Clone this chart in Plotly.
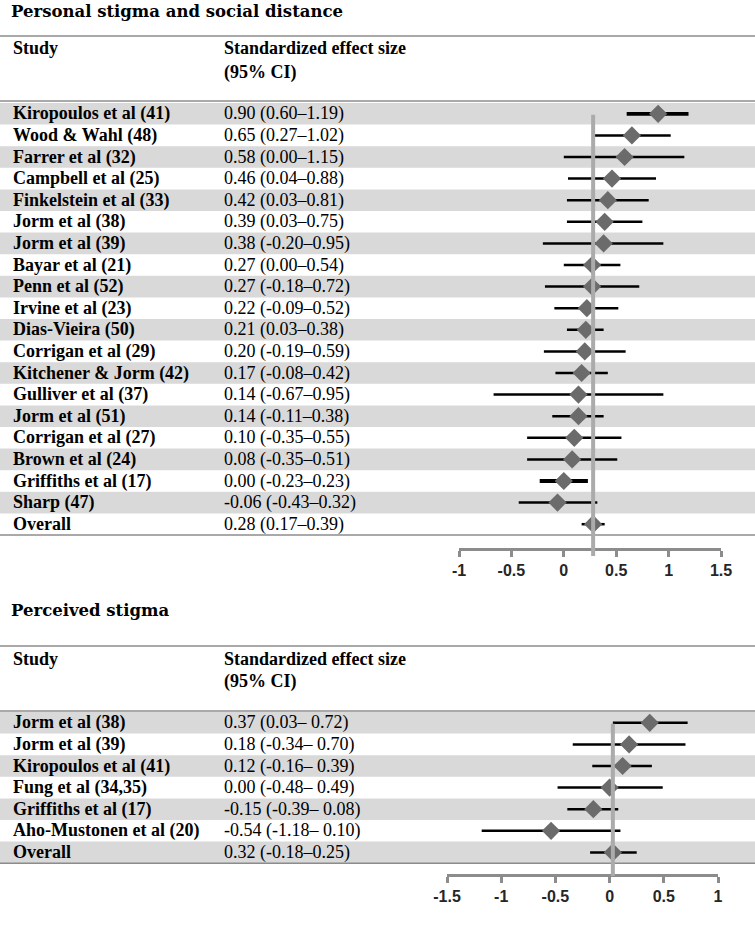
import plotly.graph_objects as go

# ---------------- data ----------------
top_studies = ["Kiropoulos et al (41)", "Wood & Wahl (48)", "Farrer et al (32)", "Campbell et al (25)",
               "Finkelstein et al (33)", "Jorm et al (38)", "Jorm et al (39)", "Bayar et al (21)",
               "Penn et al (52)", "Irvine et al (23)", "Dias-Vieira (50)", "Corrigan et al (29)",
               "Kitchener & Jorm (42)", "Gulliver et al (37)", "Jorm et al (51)", "Corrigan et al (27)",
               "Brown et al (24)", "Griffiths et al (17)", "Sharp (47)", "Overall"]
top_es = [0.90, 0.65, 0.58, 0.46, 0.42, 0.39, 0.38, 0.27, 0.27, 0.22, 0.21, 0.20, 0.17, 0.14, 0.14, 0.10, 0.08, 0.00, -0.06, 0.28]
top_lo = [0.60, 0.27, 0.00, 0.04, 0.03, 0.03, -0.20, 0.00, -0.18, -0.09, 0.03, -0.19, -0.08, -0.67, -0.11, -0.35, -0.35, -0.23, -0.43, 0.17]
top_hi = [1.19, 1.02, 1.15, 0.88, 0.81, 0.75, 0.95, 0.54, 0.72, 0.52, 0.38, 0.59, 0.42, 0.95, 0.38, 0.55, 0.51, 0.23, 0.32, 0.39]
top_labels = ["0.90 (0.60–1.19)", "0.65 (0.27–1.02)", "0.58 (0.00–1.15)", "0.46 (0.04–0.88)",
              "0.42 (0.03–0.81)", "0.39 (0.03–0.75)", "0.38 (-0.20–0.95)", "0.27 (0.00–0.54)",
              "0.27 (-0.18–0.72)", "0.22 (-0.09–0.52)", "0.21 (0.03–0.38)", "0.20 (-0.19–0.59)",
              "0.17 (-0.08–0.42)", "0.14 (-0.67–0.95)", "0.14 (-0.11–0.38)", "0.10 (-0.35–0.55)",
              "0.08 (-0.35–0.51)", "0.00 (-0.23–0.23)", "-0.06 (-0.43–0.32)", "0.28 (0.17–0.39)"]
top_ticks = [-1, -0.5, 0, 0.5, 1, 1.5]
top_ticktext = ["-1", "-0.5", "0", "0.5", "1", "1.5"]

bot_studies = ["Jorm et al (38)", "Jorm et al (39)", "Kiropoulos et al (41)", "Fung et al (34,35)",
               "Griffiths et al (17)", "Aho-Mustonen et al (20)", "Overall"]
bot_es = [0.37, 0.18, 0.12, 0.00, -0.15, -0.54, 0.03]
bot_lo = [0.03, -0.34, -0.16, -0.48, -0.39, -1.18, -0.18]
bot_hi = [0.72, 0.70, 0.39, 0.49, 0.08, 0.10, 0.25]
bot_labels = ["0.37 (0.03– 0.72)", "0.18 (-0.34– 0.70)", "0.12 (-0.16– 0.39)", "0.00 (-0.48– 0.49)",
              "-0.15 (-0.39– 0.08)", "-0.54 (-1.18– 0.10)", "0.32 (-0.18–0.25)"]
bot_ticks = [-1.5, -1, -0.5, 0, 0.5, 1]
bot_ticktext = ["-1.5", "-1", "-0.5", "0", "0.5", "1"]

# ---------------- layout helpers ----------------
W, H = 755, 926
ROW = 21.6


def py(p):
    return 1 - p / H


def pxx(p):
    return p / W


BAND = "#d9d9d9"
RULE = "#8c8c8c"
REF = "#ababab"
DIAM = "#6b6b6b"
SERIF = "Liberation Serif"
TXT = 18

fig = go.Figure()
shapes = []
annotations = []

panels = [
    dict(studies=top_studies, es=top_es, lo=top_lo, hi=top_hi, labels=top_labels,
         ticks=top_ticks, ticktext=top_ticktext, xa="x", ya="y",
         title="Personal stigma and social distance", thick=(0, 17),
         title_y=11, rule_top=36, study_y=48, ci_y=72, rule_head=101,
         rows_top=103, axis_y=548, ref_bottom=556, xpx=(459, 721), rng=(-1, 1.5)),
    dict(studies=bot_studies, es=bot_es, lo=bot_lo, hi=bot_hi, labels=bot_labels,
         ticks=bot_ticks, ticktext=bot_ticktext, xa="x2", ya="y2",
         title="Perceived stigma", thick=(),
         title_y=610, rule_top=646, study_y=659, ci_y=681, rule_head=711,
         rows_top=712, axis_y=874, ref_bottom=876, xpx=(447, 718), rng=(-1.5, 1)),
]

layout_axes = {}
for k, p in enumerate(panels):
    n = len(p["studies"])
    rows_bottom = p["rows_top"] + n * ROW
    ybot_val = -0.5 + (p["axis_y"] - p["rows_top"]) / ROW
    xname = "xaxis" if k == 0 else "xaxis2"
    yname = "yaxis" if k == 0 else "yaxis2"
    layout_axes[xname] = dict(
        domain=[pxx(p["xpx"][0]), pxx(p["xpx"][1])], range=list(p["rng"]),
        anchor=p["ya"], showgrid=False, zeroline=False, automargin=False,
        showline=True, linecolor=RULE, linewidth=2.5,
        ticks="outside", ticklen=6, tickwidth=2.5, tickcolor=RULE,
        tickvals=p["ticks"], ticktext=p["ticktext"],
        tickfont=dict(family="Liberation Sans", size=16, color="#262626", weight="bold"),
    )
    layout_axes[yname] = dict(
        domain=[py(p["axis_y"]), py(p["rows_top"])], range=[ybot_val, -0.5],
        anchor=p["xa"], visible=False, showgrid=False, zeroline=False, automargin=False,
    )

    # alternating bands
    for i in range(0, n, 2):
        shapes.append(dict(type="rect", xref="paper", yref=p["ya"], x0=0, x1=1,
                           y0=i - 0.5, y1=i + 0.5, fillcolor=BAND, line=dict(width=0),
                           layer="below"))
    # horizontal rules
    for ypix in (p["rule_top"], p["rule_head"], rows_bottom):
        shapes.append(dict(type="line", xref="paper", yref="paper", x0=0, x1=1,
                           y0=py(ypix), y1=py(ypix), line=dict(color=RULE, width=1.5)))
    # reference line at the overall estimate
    ov = p["es"][-1]
    shapes.append(dict(type="line", xref=p["xa"], yref="paper", x0=ov, x1=ov,
                       y0=py(p["rows_top"] + ROW / 2 + 1), y1=py(p["ref_bottom"]),
                       line=dict(color=REF, width=4), layer="above"))

    # CI lines
    for i in range(n):
        w = 3.8 if i in p["thick"] else 2.5
        fig.add_trace(go.Scatter(x=[p["lo"][i], p["hi"][i]], y=[i, i], mode="lines",
                                 line=dict(color="black", width=w), xaxis=p["xa"], yaxis=p["ya"],
                                 showlegend=False, hoverinfo="skip"))
    fig.add_trace(go.Scatter(x=p["es"], y=list(range(n)), mode="markers",
                             marker=dict(symbol="diamond", size=14, color=DIAM, line=dict(width=0)),
                             xaxis=p["xa"], yaxis=p["ya"], showlegend=False, cliponaxis=False,
                             hoverinfo="skip"))

    # title and headers
    annotations.append(dict(text="<b>" + p["title"] + "</b>", xref="paper", yref="paper",
                            x=pxx(9), y=py(p["title_y"]), xanchor="left", yanchor="middle",
                            showarrow=False, font=dict(family="DejaVu Serif", size=16.5, color="black")))
    annotations.append(dict(text="<b>Study</b>", xref="paper", yref="paper", x=pxx(11),
                            y=py(p["study_y"]), xanchor="left", yanchor="middle", showarrow=False,
                            font=dict(family=SERIF, size=TXT, color="black")))
    annotations.append(dict(text="<b>Standardized effect size</b>", xref="paper", yref="paper",
                            x=pxx(222), y=py(p["study_y"]), xanchor="left", yanchor="middle",
                            showarrow=False, font=dict(family=SERIF, size=TXT, color="black")))
    annotations.append(dict(text="<b>(95% CI)</b>", xref="paper", yref="paper",
                            x=pxx(222), y=py(p["ci_y"]), xanchor="left", yanchor="middle",
                            showarrow=False, font=dict(family=SERIF, size=TXT, color="black")))
    for i in range(n):
        annotations.append(dict(text="<b>" + p["studies"][i] + "</b>", xref="paper", yref=p["ya"],
                                x=pxx(11), y=i, xanchor="left", yanchor="middle", showarrow=False,
                                font=dict(family=SERIF, size=TXT, color="black")))
        annotations.append(dict(text=p["labels"][i], xref="paper", yref=p["ya"],
                                x=pxx(222), y=i, xanchor="left", yanchor="middle", showarrow=False,
                                font=dict(family=SERIF, size=TXT, color="black")))

fig.update_layout(width=W, height=H,
                  margin=dict(l=0, r=0, t=0, b=0, pad=0, autoexpand=False),
                  paper_bgcolor="white", plot_bgcolor="rgba(0,0,0,0)", hovermode=False,
                  shapes=shapes, annotations=annotations, **layout_axes)

fig.write_html("out.html", config={"displayModeBar": False},
               post_script="document.body.style.margin='0';document.body.style.overflow='hidden';")
